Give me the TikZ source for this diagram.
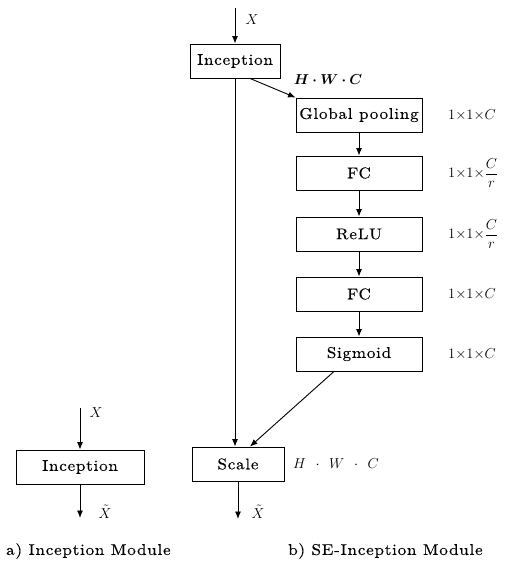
\documentclass[tikz,border=0pt]{standalone}
\usepackage{amsmath}
\usepackage{bm}
\usepackage{fontspec}
\usetikzlibrary{arrows.meta}
\newfontfamily\widefont{lmroman10-regular.otf}[FakeStretch=1.1,LetterSpace=5,FakeBold=0.3]
\newcommand{\sptext}{\widefont\fontsize{15.5}{18}\selectfont}
\begin{document}
\begin{tikzpicture}[x=1pt,y=-1pt,
  box/.style={draw,line width=0.9pt,minimum height=34pt,inner sep=0pt,font=\sptext},
  rbox/.style={box,minimum width=126pt},
  arr/.style={-{Latex[length=7.5pt,width=6pt]},line width=0.9pt},
  lab/.style={font=\fontsize{15.5}{18}\selectfont,inner sep=0pt},
  captxt/.style={font=\sptext,inner sep=0pt,anchor=west}]
\useasboundingbox (0,0) rectangle (505,561);
% right column
\node[box,minimum width=90pt] (inc) at (235,61) {Inception};
\coordinate (xin) at (235,8);
\node[lab] (xl) at (252,20) {$X$};
\node[rbox] (gp) at (359,115) {Global pooling};
\node[rbox] (fc1) at (359,173) {FC};
\node[rbox] (relu) at (359,234) {ReLU};
\node[rbox] (fc2) at (359,294) {FC};
\node[rbox] (sig) at (359,354) {Sigmoid};
\node[box,minimum width=92pt] (sc) at (238,464) {Scale};
\coordinate (xout) at (238,519);
\node[lab] (xo) at (258,512) {$\tilde{X}$};
\node[lab] (hwc1) at (328,80) {$\bm{H\cdot W\cdot C}$};
\node[lab,anchor=west] (hwc2) at (293,464) {$H\;\,\cdot\;\,W\;\,\cdot\;\,C$};
\node[lab,anchor=west] (l1) at (448,115) {$1{\times}1{\times}C$};
\node[lab,anchor=west] (l2) at (448,173) {$1{\times}1{\times}\dfrac{C}{r}$};
\node[lab,anchor=west] (l3) at (448,234) {$1{\times}1{\times}\dfrac{C}{r}$};
\node[lab,anchor=west] (l4) at (448,294) {$1{\times}1{\times}C$};
\node[lab,anchor=west] (l5) at (448,354) {$1{\times}1{\times}C$};
\draw[arr] (xin) -- (inc.north);
\draw[arr] (inc.south) -- (inc.south |- sc.north);
\draw[arr] ([xshift=15pt]inc.south) -- (gp.north west);
\draw[arr] (gp) -- (fc1);
\draw[arr] (fc1) -- (relu);
\draw[arr] (relu) -- (fc2);
\draw[arr] (fc2) -- (sig);
\draw[arr] ([xshift=-25pt]sig.south) -- ([xshift=12pt]sc.north);
\draw[arr] (sc.south) -- (xout);
% left module
\node[box,minimum width=128pt] (inca) at (80,467) {Inception};
\coordinate (ain) at (80,408);
\coordinate (aout) at (80,518);
\node[lab] (axl) at (96,413) {$X$};
\node[lab] (axo) at (105,512) {$\tilde{X}$};
\draw[arr] (ain) -- (inca.north);
\draw[arr] (inca.south) -- (aout);
% captions
\node[captxt] (ca) at (6,551) {a)\ Inception\ Module};
\node[captxt] (cb) at (288,551) {b)\ SE-Inception\ Module};
\end{tikzpicture}
\end{document}
